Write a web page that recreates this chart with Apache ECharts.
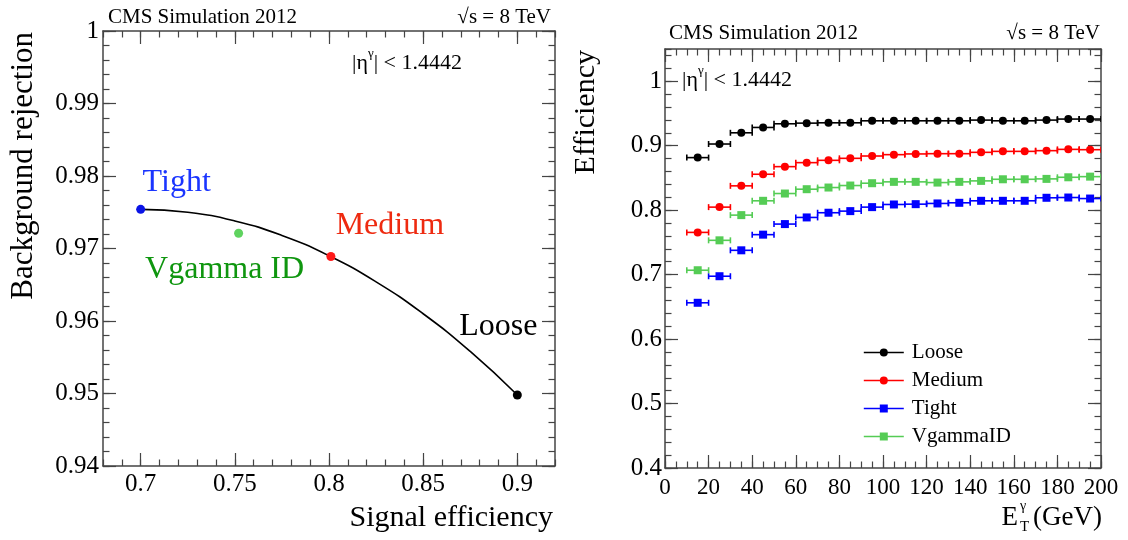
<!DOCTYPE html>
<html>
<head>
<meta charset="utf-8">
<script src="https://cdn.jsdelivr.net/npm/echarts@6/dist/echarts.min.js"></script>
<style>
  html, body { margin: 0; padding: 0; background: #fff; }
  #chart { width: 1128px; height: 540px; }
</style>
</head>
<body>
<div id="chart"></div>
<script>
// ---- left panel: working points + ROC curve ----
const wpNames = ['Tight', 'Vgamma ID', 'Medium', 'Loose'];
const wpSignalEff = [0.700, 0.752, 0.801, 0.900];
const wpBkgRej = [0.9754, 0.9721, 0.9689, 0.9498];
const curveSignalEff = [0.700, 0.725, 0.750, 0.775, 0.800, 0.825, 0.850, 0.875, 0.900];
const curveBkgRej = [0.9754, 0.9750, 0.9738, 0.9718, 0.9690, 0.9654, 0.9610, 0.9558, 0.9498];
const leftXTicks = [0.7, 0.75, 0.8, 0.85, 0.9];

// ---- right panel: efficiency vs photon ET ----
const etBins = [15, 25, 35, 45, 55, 65, 75, 85, 95, 105, 115, 125, 135, 145, 155, 165, 175, 185, 195];
const etHalfWidth = 5;
const looseEff = [0.8815, 0.9026, 0.9200, 0.9283, 0.9340, 0.9350, 0.9355, 0.9355, 0.9386, 0.9386, 0.9386, 0.9386, 0.9386, 0.9397, 0.9386, 0.9386, 0.9397, 0.9413, 0.9413];
const mediumEff = [0.7655, 0.8047, 0.8377, 0.8557, 0.8675, 0.8737, 0.8773, 0.8804, 0.8840, 0.8861, 0.8872, 0.8876, 0.8876, 0.8897, 0.8912, 0.8912, 0.8923, 0.8943, 0.8938];
const tightEff = [0.6563, 0.6975, 0.7377, 0.7620, 0.7784, 0.7887, 0.7960, 0.7985, 0.8047, 0.8088, 0.8093, 0.8104, 0.8114, 0.8145, 0.8145, 0.8145, 0.8192, 0.8196, 0.8180];
const vgammaEff = [0.7068, 0.7532, 0.7923, 0.8145, 0.8258, 0.8325, 0.8351, 0.8382, 0.8418, 0.8439, 0.8439, 0.8428, 0.8439, 0.8454, 0.8479, 0.8479, 0.8485, 0.8510, 0.8520];
const legendNames = ['Loose', 'Medium', 'Tight', 'VgammaID'];

const FONT = 'Liberation Serif';
const AXIS_COLOR = '#444';

// styles (kept apart from the data)
const wpMarkerColor = ['#0a14e6', '#5fd35f', '#ff1a1a', '#000000'];
const wpTextColor = ['#1a35ff', '#0f960f', '#ee2a10', '#000000'];
const wpLabelOffset = [[36, -27], [-14, 36], [59, -31], [-19, -68]];

function frameAxes(grid, dim, o) {
  const mainPos = dim === 'x' ? 'bottom' : 'left';
  const oppPos = dim === 'x' ? 'top' : 'right';
  const base = {
    type: 'value', gridIndex: grid, min: o.min, max: o.max,
    splitLine: { show: false }, minorTick: { show: false }
  };
  const majorTick = Object.assign({ show: true, inside: true, length: 13,
    lineStyle: { color: AXIS_COLOR, width: 1.2 } }, o.tickValues ? { customValues: o.tickValues } : {});
  const majorExtra = o.tickValues ? {} : { interval: o.interval };
  const label = Object.assign({
    show: true, fontFamily: FONT, fontSize: o.fontSize, color: '#000', margin: o.margin,
    showMinLabel: o.showMin !== false, showMaxLabel: o.showMax !== false
  }, o.tickValues ? { customValues: o.tickValues } : {});
  const minorTick = { show: true, inside: true, length: 6.5, lineStyle: { color: AXIS_COLOR, width: 1.2 } };
  return [
    Object.assign({}, base, majorExtra, { position: mainPos,
      axisLine: { show: true, onZero: false, lineStyle: { color: AXIS_COLOR, width: 1.5 } },
      axisTick: majorTick, axisLabel: label }),
    Object.assign({}, base, majorExtra, { position: oppPos,
      axisLine: { show: true, onZero: false, lineStyle: { color: AXIS_COLOR, width: 1.5 } },
      axisTick: majorTick, axisLabel: { show: false } }),
    Object.assign({}, base, { position: mainPos, interval: o.minor,
      axisLine: { show: false, onZero: false }, axisTick: minorTick, axisLabel: { show: false } }),
    Object.assign({}, base, { position: oppPos, interval: o.minor,
      axisLine: { show: false, onZero: false }, axisTick: minorTick, axisLabel: { show: false } })
  ];
}

function errBars(name, vals, color) {
  return {
    type: 'custom', name: name + ' bins', xAxisIndex: 4, yAxisIndex: 4, clip: true, silent: true, z: 2,
    data: etBins.map((x, i) => [x, vals[i]]),
    renderItem: (params, api) => {
      const x = api.value(0), y = api.value(1);
      const a = api.coord([x - etHalfWidth, y]);
      const b = api.coord([x + etHalfWidth, y]);
      const st = { stroke: color, lineWidth: 1.6 };
      return {
        type: 'group', children: [
          { type: 'line', shape: { x1: a[0], y1: a[1], x2: b[0], y2: b[1] }, style: st },
          { type: 'line', shape: { x1: a[0], y1: a[1] - 3, x2: a[0], y2: a[1] + 3 }, style: st },
          { type: 'line', shape: { x1: b[0], y1: b[1] - 3, x2: b[0], y2: b[1] + 3 }, style: st }
        ]
      };
    }
  };
}

function markers(name, vals, color, symbol, size) {
  return {
    type: 'line', name: name, xAxisIndex: 4, yAxisIndex: 4, z: 3,
    data: etBins.map((x, i) => [x, vals[i]]),
    symbol: symbol, symbolSize: size, showAllSymbol: true,
    itemStyle: { color: color, opacity: 1 }, lineStyle: { color: color, opacity: 0 }
  };
}

function txt(text, x, y, size, opts) {
  return {
    type: 'text', x: x, y: y, rotation: (opts && opts.rot) || 0, silent: true,
    style: Object.assign({
      text: text, fill: '#000', font: size + 'px "' + FONT + '"',
      textAlign: 'left', textVerticalAlign: 'middle', align: 'left', verticalAlign: 'middle'
    }, (opts && opts.style) || {})
  };
}
const R = { textAlign: 'right', align: 'right' };
const etaRich = {
  t: { fontFamily: FONT, fontSize: 22, lineHeight: 32 },
  s: { fontFamily: FONT, fontSize: 13, lineHeight: 13, verticalAlign: 'top' }
};

const chart = echarts.init(document.getElementById('chart'), null, { renderer: 'canvas' });

const xAxes = [].concat(
  frameAxes(0, 'x', { min: 0.68, max: 0.92, tickValues: leftXTicks, minor: 0.01, fontSize: 25, margin: 6 }),
  frameAxes(1, 'x', { min: 0, max: 200, interval: 20, minor: 5, fontSize: 23, margin: 8 })
);
const yAxes = [].concat(
  frameAxes(0, 'y', { min: 0.94, max: 1.0, interval: 0.01, minor: 0.002, fontSize: 25, margin: 4 }),
  frameAxes(1, 'y', { min: 0.4, max: 1.05, interval: 0.1, minor: 0.02, fontSize: 25, margin: 3, showMax: false })
);

const option = {
  animation: false,
  backgroundColor: '#fff',
  textStyle: { fontFamily: FONT },
  grid: [
    { left: 103, top: 31, width: 452, height: 435 },
    { left: 665, top: 49, width: 436, height: 419 }
  ],
  xAxis: xAxes,
  yAxis: yAxes,
  legend: {
    orient: 'vertical', left: 858, top: 337,
    itemWidth: 40, itemHeight: 10, itemGap: 7,
    textStyle: { fontFamily: FONT, fontSize: 21, color: '#000', padding: [0, 0, 0, 3] },
    data: legendNames.map(n => ({ name: n, lineStyle: { opacity: 1, width: 1.6 } }))
  },
  series: [
    {
      type: 'line', name: 'curve', xAxisIndex: 0, yAxisIndex: 0, smooth: true, symbol: 'none', z: 2,
      data: curveSignalEff.map((x, i) => [x, curveBkgRej[i]]),
      lineStyle: { color: '#000', width: 1.6 }
    },
    {
      type: 'scatter', name: 'working points', xAxisIndex: 0, yAxisIndex: 0, symbolSize: 9, z: 3,
      data: wpNames.map((n, i) => ({
        name: n, value: [wpSignalEff[i], wpBkgRej[i]],
        itemStyle: { color: wpMarkerColor[i], opacity: 1 },
        label: { color: wpTextColor[i], offset: wpLabelOffset[i] }
      })),
      itemStyle: { opacity: 1 },
      label: { show: true, position: 'inside', formatter: '{b}', fontFamily: FONT, fontSize: 32, opacity: 1 }
    },
    errBars('Loose', looseEff, '#000000'),
    errBars('Medium', mediumEff, '#ff0000'),
    errBars('Tight', tightEff, '#0000ff'),
    errBars('VgammaID', vgammaEff, '#55cc55'),
    markers('Loose', looseEff, '#000000', 'circle', 8),
    markers('Medium', mediumEff, '#ff0000', 'circle', 8),
    markers('Tight', tightEff, '#0000ff', 'rect', 8),
    markers('VgammaID', vgammaEff, '#55cc55', 'rect', 8)
  ],
  graphic: [
    // left panel texts
    txt('CMS Simulation 2012', 108, 17, 21),
    txt('√s = 8 TeV', 551, 17, 21, { style: R }),
    txt('{t||η}{s|γ}{t|| < 1.4442}', 352, 63, 22, { style: { rich: etaRich } }),
    txt('Background rejection', 24, 32, 31, { rot: Math.PI / 2, style: R }),
    txt('Signal efficiency', 553, 518, 30, { style: R }),
    // right panel texts
    txt('CMS Simulation 2012', 669, 33, 21),
    txt('√s = 8 TeV', 1100, 33, 21, { style: R }),
    txt('{t||η}{s|γ}{t|| < 1.4442}', 682, 80, 22, { style: { rich: etaRich } }),
    txt('Efficiency', 586, 50, 30, { rot: Math.PI / 2, style: R }),
    txt('E', 1018, 518, 27, { style: R }),
    txt('γ', 1020, 506, 14),
    txt('T', 1020, 527, 15),
    txt('(GeV)', 1102, 518, 27, { style: R })
  ]
};

chart.setOption(option);
</script>
</body>
</html>
